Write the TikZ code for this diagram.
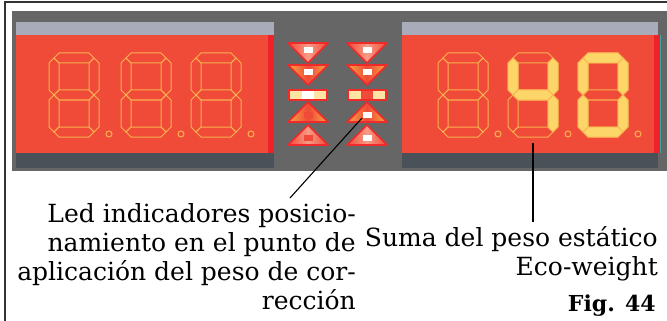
\documentclass[tikz,border=0pt]{standalone}
\usepackage{fontspec}
\setmainfont{DejaVu Serif}
\usepackage{xcolor}
\usepackage{tikz}

\definecolor{panel}{HTML}{666666}
\definecolor{lcdtop}{HTML}{A8ABBA}
\definecolor{lcdred}{HTML}{F04A38}
\definecolor{lcdedge}{HTML}{EE2228}
\definecolor{lcdfoot}{HTML}{4A5159}
\definecolor{lcdteal}{HTML}{3AA6A6}
\definecolor{segline}{HTML}{F8B250}
\definecolor{segon}{HTML}{FDD66A}
\definecolor{ledred}{HTML}{EE2A2A}
\definecolor{ledamber}{HTML}{F7A843}
\definecolor{ledpink}{HTML}{F79A86}
\definecolor{ledcream}{HTML}{FDE3A4}

% segments of one digit, 50 wide and 84 high, origin at its top left
\def\sega{(5,5) -- (10,0) -- (40,0) -- (45,5) -- (40,10) -- (10,10) -- cycle}
\def\segb{(45,5) -- (50,10) -- (50,37) -- (45,42) -- (40,37) -- (40,10) -- cycle}
\def\segc{(45,42) -- (50,47) -- (50,74) -- (45,79) -- (40,74) -- (40,47) -- cycle}
\def\segd{(5,79) -- (10,74) -- (40,74) -- (45,79) -- (40,84) -- (10,84) -- cycle}
\def\sege{(5,42) -- (10,47) -- (10,74) -- (5,79) -- (0,74) -- (0,47) -- cycle}
\def\segf{(5,5) -- (10,10) -- (10,37) -- (5,42) -- (0,37) -- (0,10) -- cycle}
\def\segg{(5,42) -- (10,37) -- (40,37) -- (45,42) -- (40,47) -- (10,47) -- cycle}

% unlit digit with its decimal point
\newcommand{\lcddigit}[2]{%
  \begin{scope}[shift={(#1,#2)}]
    \foreach \s in {\sega,\segb,\segc,\segd,\sege,\segf,\segg}
      \draw[segoff] \s;
    \draw[segoff] (60,81) circle (3);
  \end{scope}}

% triangle lamp: centre x, base y, apex y, corner colour, middle colour, lamp colour
\newcommand{\ledlamp}[6]{%
  \shade[left color=#4,right color=#4,middle color=#5]
    (#1-20,#2) -- (#1+20,#2) -- (#1,#3) -- cycle;
  \draw[ledrim] (#1-20,#2) -- (#1+20,#2) -- (#1,#3) -- cycle;
  \fill[#6] (#1-4.5,{#2+0.2*(#3-#2)}) rectangle (#1+4.5,{#2+0.52*(#3-#2)});}

% bar lamp: centre x, lamp colour
\newcommand{\ledbar}[2]{%
  \fill[ledcream] (#1-19,90) rectangle (#1+19,100);
  \fill[#2] (#1-6,90) rectangle (#1+6,100);
  \draw[ledrim] (#1-19,90) rectangle (#1+19,100);}

\begin{document}
\begin{tikzpicture}[x=1pt,y=-1pt,
    segoff/.style={draw=segline,line width=1pt},
    segon/.style={fill=segon,draw=segline,line width=0.8pt},
    ledrim/.style={draw=ledred,line width=1.6pt,line join=round},
    leader/.style={black,line width=1.1pt},
    caption/.style={inner sep=0pt,align=right,font=\fontsize{25}{29}\selectfont}]
  \useasboundingbox (0,0) rectangle (667,321);
  % frame and panel
  \draw[line width=2pt,black!80] (5,321) -- (5,2) -- (667,2);
  \fill[panel] (12,11) rectangle (667,171);

  % left display
  \fill[lcdtop] (16,22) rectangle (274,35);
  \fill[lcdred] (16,35) rectangle (274,153);
  \fill[lcdedge] (268,35) rectangle (274,153);
  \fill[lcdfoot] (16,153) rectangle (274,168);
  \lcddigit{49}{53}
  \lcddigit{121}{53}
  \lcddigit{191}{53}

  % right display: 40
  \fill[lcdtop] (402,22) rectangle (658,35);
  \fill[lcdred] (402,35) rectangle (660,153);
  \fill[lcdedge] (654,35) rectangle (660,153);
  \draw[lcdteal,line width=0.8pt] (660.5,35) -- (660.5,153);
  \fill[lcdfoot] (402,153) rectangle (658,168);
  \lcddigit{438}{53}
  \lcddigit{508}{53}
  \lcddigit{578}{53}
  \begin{scope}[shift={(508,53)}]
    \foreach \s in {\segb,\segc,\segf,\segg}
      \filldraw[segon] \s;
  \end{scope}
  \begin{scope}[shift={(578,53)}]
    \foreach \s in {\sega,\segb,\segc,\segd,\sege,\segf}
      \filldraw[segon] \s;
  \end{scope}

  % position lamps, left column
  \ledlamp{308}{43}{63}{lcdred}{ledpink}{white}
  \ledlamp{308}{65}{85}{ledamber}{lcdred}{white}
  \ledbar{308}{white}
  \ledlamp{308}{122}{102}{ledamber}{lcdred}{lcdred}
  \ledlamp{308}{145}{125}{lcdred}{ledpink}{lcdred}
  % position lamps, right column
  \ledlamp{367}{43}{63}{lcdred}{ledpink}{white}
  \ledlamp{367}{65}{85}{ledamber}{lcdred}{white}
  \ledbar{367}{lcdred}
  \ledlamp{367}{122}{102}{ledamber}{lcdred}{white}
  \ledlamp{367}{145}{125}{lcdred}{ledpink}{white}

  % captions
  \node[caption,anchor=north east] (ledtxt) at (356,203)
    {Led indicadores posicio-\\namiento en el punto de\\aplicación del peso de cor-\\rección};
  \node[caption,anchor=north east] (sumtxt) at (658,226)
    {Suma del peso estático\\Eco-weight};
  \node[caption,anchor=base east,font=\fontsize{22}{29}\selectfont\bfseries] (fig) at (656,311) {Fig. 44};

  % leaders
  \coordinate (ledpt) at (362,118);
  \coordinate (ledend) at (290,198);
  \coordinate (sumpt) at (533,143);
  \coordinate (sumend) at (533,222);
  \draw[leader] (ledpt) -- (ledend);
  \draw[leader] (sumpt) -- (sumend);
\end{tikzpicture}
\end{document}
